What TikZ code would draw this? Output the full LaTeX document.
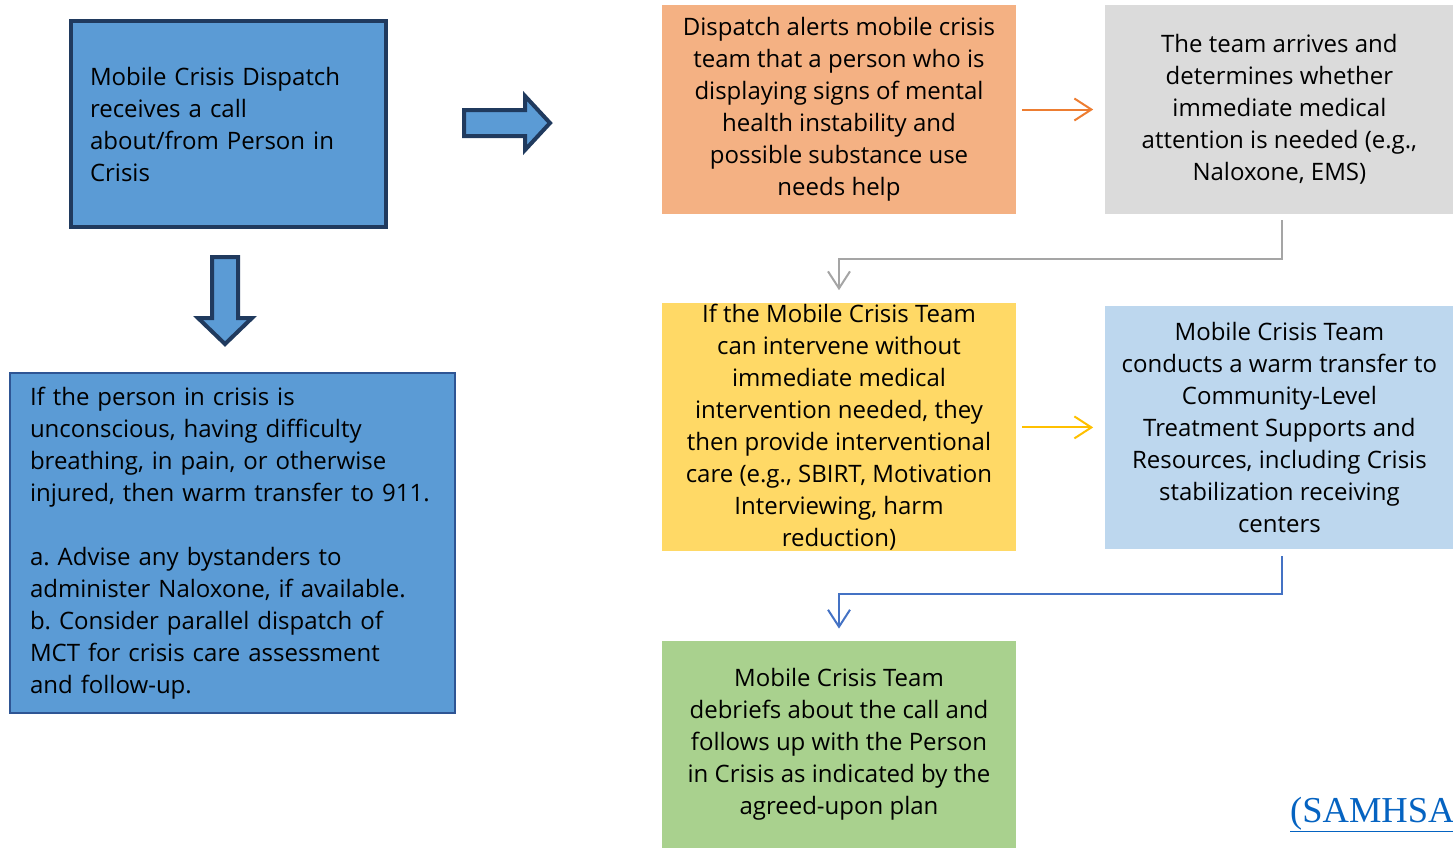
\documentclass[tikz,border=0pt]{standalone}
\usepackage{fontspec}
\setmainfont{Open Sans}
\newfontfamily\linkfont{Liberation Serif}
\usetikzlibrary{positioning,arrows.meta}
\frenchspacing

\definecolor{boxblue}{HTML}{5B9BD5}
\definecolor{navy}{HTML}{203A5E}
\definecolor{noteline}{HTML}{2E5594}
\definecolor{peach}{HTML}{F4B183}
\definecolor{orangeline}{HTML}{ED7D31}
\definecolor{lightgray}{HTML}{DBDBDB}
\definecolor{grayline}{HTML}{A5A5A5}
\definecolor{gold}{HTML}{FFD966}
\definecolor{goldline}{HTML}{FFC000}
\definecolor{paleblue}{HTML}{BDD7EE}
\definecolor{blueline}{HTML}{4472C4}
\definecolor{leaf}{HTML}{A9D18E}
\definecolor{linkblue}{HTML}{0563C1}

\begin{document}
\begin{tikzpicture}[
		x=1pt, y=-1pt,
		node distance=89pt,
		every node/.style={font=\fontsize{24}{32}\selectfont},
		stepbox/.style={rectangle, align=center, inner xsep=4pt, inner ysep=0pt, minimum width=354pt},
		sidebox/.style={stepbox, minimum width=348pt},
		bluebox/.style={rectangle, fill=boxblue, align=left, text width=#1, inner xsep=20pt},
		flow/.style={-{Straight Barb[length=17pt,width=22pt]}, line width=2pt},
		blockarrow/.style={fill=boxblue, draw=navy, line width=4pt, line join=miter}
		]
		\useasboundingbox (0,0) rectangle (1453,847);

		\node[bluebox=277pt, draw=navy, line width=4pt, inner xsep=19pt, minimum width=315pt, minimum height=206pt] (call) at (228.5,124) {Mobile Crisis Dispatch\\ receives a call\\ about/from Person in\\ Crisis};
		\node[bluebox=405pt, draw=noteline, line width=1.5pt, minimum width=445pt, minimum height=340pt] (note) at (232.5,543) {If the person in crisis is\\ unconscious, having difficulty\\ breathing, in pain, or otherwise\\ injured, then warm transfer to 911.\\[32pt] a. Advise any bystanders to\\ administer Naloxone, if available.\\ b. Consider parallel dispatch of\\ MCT for crisis care assessment\\ and follow-up.};

		\draw[blockarrow] (464,110) -- (525,110) -- (525,96) -- (550,123) -- (525,150) -- (525,136) -- (464,136) -- cycle;
		\draw[blockarrow] (212,257) -- (238,257) -- (238,318) -- (252,318) -- (225,344) -- (198,318) -- (212,318) -- cycle;

		\node[stepbox, fill=peach, minimum height=209pt] (alert) at (839,109.5) {Dispatch alerts mobile crisis\\ team that a person who is\\ displaying signs of mental\\ health instability and\\ possible substance use\\ needs help};
		\node[sidebox, fill=lightgray, minimum height=209pt, right=of alert] (arrive) {The team arrives and\\ determines whether\\ immediate medical\\ attention is needed (e.g.,\\ Naloxone, EMS)};
		\node[stepbox, fill=gold, minimum height=248pt, below=of alert] (care) {If the Mobile Crisis Team\\ can intervene without\\ immediate medical\\ intervention needed, they\\ then provide interventional\\ care (e.g., SBIRT, Motivation\\ Interviewing, harm\\ reduction)};
		\node[sidebox, fill=paleblue, minimum height=243pt, right=of care] (transfer) {Mobile Crisis Team\\ conducts a warm transfer to\\ Community-Level\\ Treatment Supports and\\ Resources, including Crisis\\ stabilization receiving\\ centers};
		\node[stepbox, fill=leaf, minimum height=207pt, below=of care] (debrief) {Mobile Crisis Team\\ debriefs about the call and\\ follows up with the Person\\ in Crisis as indicated by the\\ agreed-upon plan};

		\node[anchor=base west, text=linkblue, inner sep=0pt, font=\linkfont\fontsize{36.5}{40}\selectfont] (source) at (1290,822) {\underline{(SAMHSA}};

		\draw[flow, orangeline] ([xshift=6pt]alert.east) -- ([xshift=-12pt]arrive.west);
		\draw[flow, goldline] ([xshift=6pt]care.east) -- ([xshift=-12pt]transfer.west);
		\draw[flow, grayline] ([xshift=3pt, yshift=-6pt]arrive.south) -- ++(0,39) -| ([yshift=13pt]care.north);
		\draw[flow, blueline] ([xshift=3pt, yshift=-7pt]transfer.south) -- ++(0,38) -| ([yshift=12pt]debrief.north);
	\end{tikzpicture}
\end{document}
